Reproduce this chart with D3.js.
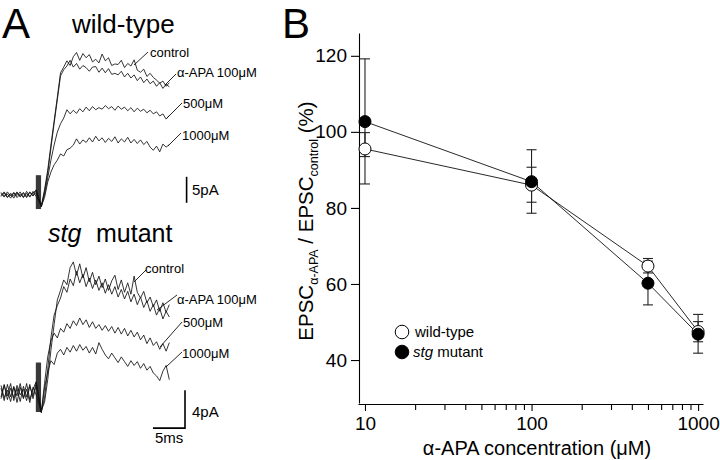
<!DOCTYPE html>
<html><head><meta charset="utf-8">
<script src="https://cdn.jsdelivr.net/npm/d3@7"></script>
<style>
html,body{margin:0;padding:0;background:#fff;}
svg text{font-family:"Liberation Sans", Arial, Helvetica, sans-serif;fill:#000;}
</style></head>
<body><svg id="c" width="720" height="460"></svg>
<script>
// ---------------- DATA ----------------
// Panel A: sample times (ms)
const tBase = [0,0.5,1,1.5,2,2.5,3,3.5,4,4.5,5,5.5];
const tResp = [6.3,6.8,7.3,7.8,8.3,8.8,9.3,9.8,10.3,10.8,11.3,11.8,12.3,12.8,13.3,13.8,14.3,14.8,15.3,15.8,16.3,16.8,17.3,17.8,18.3,18.8,19.3,19.8,20.3,20.8,21.3,21.8,22.3,22.8,23.3,23.8,24.3,24.8,25.3,25.8,26.3];
const traceLabels = ["control","α-APA 100μM","500μM","1000μM"];
// wild-type currents (pA, inward plotted upward)
const wtBase = [
  [0.3,-0.4,0.6,-0.2,0.5,-0.5,0.2,-0.4,0.7,-0.3,0.4,0.9],
  [-0.3,0.4,-0.5,0.3,-0.2,0.6,-0.4,0.5,-0.3,0.6,-0.2,0.5],
  [0.5,-0.2,0.2,-0.6,0.4,-0.1,0.6,-0.5,0.3,-0.4,0.7,-0.3],
  [-0.1,0.6,-0.4,0.2,-0.6,0.4,-0.2,0.3,-0.5,0.5,-0.1,1.0]
];
const wtControl = [-2.1,1.0,4.8,9.6,14.2,18.8,23.5,24.6,25.8,24.9,26.6,27.4,25.9,27.2,26.4,27.0,25.6,26.1,25.4,27.1,25.8,26.4,24.9,25.2,25.1,25.9,24.5,25.3,24.8,26.0,24.0,23.6,24.2,22.8,23.4,22.6,22.1,21.5,21.9,20.9,21.6];
const wt100 = [-2.3,0.6,4.2,9.0,13.8,18.3,22.9,24.1,24.8,25.9,24.6,25.3,24.2,24.9,24.5,23.8,24.6,24.7,23.6,24.4,23.5,24.3,23.2,23.4,23.1,23.8,22.7,23.4,22.5,23.1,22.0,22.7,21.6,22.3,21.4,21.9,20.9,21.6,20.5,21.3,20.8];
const wt500 = [-2.0,0.0,3.3,6.7,9.6,12.1,13.7,14.8,16.4,15.6,16.3,15.7,16.6,16.0,16.9,16.2,17.0,16.4,16.8,16.5,17.2,16.6,17.0,16.3,17.1,16.5,16.9,16.2,16.8,16.0,16.7,16.1,16.5,15.8,16.3,15.6,16.0,15.2,15.6,14.6,15.3];
const wt1000 = [-2.2,-0.5,2.5,4.4,5.8,6.7,7.9,7.5,8.7,9.0,9.6,10.8,9.8,10.6,10.1,11.0,10.2,11.3,10.4,11.0,10.1,10.9,10.3,11.2,10.0,10.8,10.2,11.1,10.0,10.7,9.9,10.6,9.7,10.3,9.2,8.6,9.4,8.3,9.8,9.2,9.7];
// stg mutant currents (pA)
const stgBase = [
  [0.5,-0.8,0.9,-0.4,0.7,-1.0,0.6,-0.5,1.0,-0.7,0.4,1.2],
  [-0.6,0.8,-0.3,1.0,-0.8,0.5,-0.9,0.7,-0.4,0.9,-0.6,0.8],
  [0.8,-0.5,0.3,-0.9,0.6,-0.3,1.0,-0.6,0.4,-1.0,0.6,-0.2],
  [-0.4,0.9,-0.7,0.5,-0.5,0.8,-0.2,0.4,-0.8,0.7,-0.3,1.1]
];
const stgControl = [-1.8,-1.0,1.4,4.5,7.2,9.8,10.8,11.9,11.4,13.2,13.8,12.4,13.6,12.1,13.2,11.7,12.7,11.4,12.3,11.1,12.0,10.8,11.8,12.4,10.9,11.9,10.6,11.6,10.4,12.3,10.6,10.0,10.7,9.5,10.1,9.1,9.8,8.6,9.5,8.5,9.3];
const stg100 = [-2.0,-0.5,2.5,5.8,8.2,9.2,10.0,11.2,10.6,12.0,11.3,12.8,11.6,12.5,11.2,12.1,11.0,11.9,10.8,11.6,10.5,11.4,10.4,11.2,10.1,10.9,9.9,10.7,9.6,10.4,9.3,10.1,9.0,9.7,8.6,9.3,8.2,8.9,7.8,8.6,8.0];
const stg500 = [-2.0,1.0,3.8,5.5,6.3,5.8,6.8,6.4,7.3,6.8,7.6,7.1,7.9,7.2,7.7,6.9,7.5,6.8,7.2,6.6,7.1,6.5,7.0,6.3,6.9,6.2,6.8,6.0,6.6,5.9,6.4,5.6,6.1,5.2,5.8,5.0,5.4,4.6,5.2,4.4,5.3];
const stg1000 = [-2.1,0.5,2.2,3.4,3.0,4.2,4.6,4.0,4.8,4.3,5.0,4.4,5.1,4.5,4.9,4.2,4.8,4.1,5.3,4.6,4.0,3.6,4.2,3.7,3.2,3.8,3.3,2.8,3.4,2.9,3.3,2.6,3.1,2.4,2.8,2.1,1.8,1.3,2.3,2.9,1.4];
// stimulus artifact
const artifactT = [5.55,5.7,5.85,6.0,6.15];
const wtArtifact = [-2.7,3.8];
const stgArtifact = [-2.0,3.2];

// Panel B
const concentrations = [10,100,500,1000];
const xTicks = [10,100,1000];
const xMinorTicks = [20,30,40,50,60,70,80,90,200,300,400,500,600,700,800,900];
const yTicks = [40,60,80,100,120];
const wtMean = [95.5,86.0,64.7,47.5];
const wtLow  = [93.5,81.5,62.9,44.8];
const wtHigh = [99.8,90.7,66.7,50.1];
const stgMean = [102.7,86.9,60.2,46.8];
const stgLow  = [86.3,78.6,54.5,41.8];
const stgHigh = [119.2,95.3,66.0,52.0];
const legendLabels = ["wild-type","stg mutant"];

// ---------------- DRAW ----------------
const svg = d3.select("#c");

// ---- Panel A ----
const xA = d3.scaleLinear().domain([0,30]).range([1,193]);
const yWT = d3.scaleLinear().domain([-5,30]).range([221,39]);
const ySTG = d3.scaleLinear().domain([-3,15]).range([421.5,250.5]);
const tAll = tBase.concat(tResp);

function drawTraces(yS, bases, resps, art){
  const g = svg.append("g");
  g.selectAll("line.art").data(artifactT).join("line")
    .attr("x1", d=>xA(d)).attr("x2", d=>xA(d))
    .attr("y1", yS(art[0])).attr("y2", yS(art[1]))
    .attr("stroke","#3a3a3a").attr("stroke-width",1.4);
  const line = d3.line().x(d=>xA(d[0])).y(d=>yS(d[1]));
  resps.forEach((r,i)=>{
    const vals = bases[i].concat(r);
    g.append("path").datum(tAll.map((t,k)=>[t,vals[k]]))
      .attr("d", line).attr("fill","none").attr("stroke","#111")
      .attr("stroke-width",0.85).attr("stroke-linejoin","round");
  });
}
drawTraces(yWT, wtBase, [wtControl,wt100,wt500,wt1000], wtArtifact);
drawTraces(ySTG, stgBase, [stgControl,stg100,stg500,stg1000], stgArtifact);

// trace labels + leaders
const wtLab = [
  {x:150,y:57,l:[134,65,148,52]},
  {x:177,y:77,l:[165,85,176,74]},
  {x:183,y:108,l:[167,118,182,103]},
  {x:182,y:140,l:[168,146,181,133]}
];
const stgLab = [
  {x:145,y:273,l:[134,282,146,270]},
  {x:177,y:304,l:[157,310,177,295]},
  {x:183,y:327,l:[160,347,182,322]},
  {x:182,y:358,l:[166,367,182,352]}
];
[wtLab, stgLab].forEach(set=>{
  set.forEach((p,i)=>{
    svg.append("line").attr("x1",p.l[0]).attr("y1",p.l[1]).attr("x2",p.l[2]).attr("y2",p.l[3])
      .attr("stroke","#111").attr("stroke-width",0.9);
    svg.append("text").attr("x",p.x).attr("y",p.y).attr("font-size",13).text(traceLabels[i]);
  });
});

// scale bars
svg.append("line").attr("x1",xA(29)).attr("x2",xA(29)).attr("y1",yWT(-1.5)).attr("y2",yWT(3.5))
  .attr("stroke","#000").attr("stroke-width",1.6);
svg.append("text").attr("x",192).attr("y",195).attr("font-size",15).text("5pA");
svg.append("path").attr("d",`M${xA(23.75)},${ySTG(-3.7)}H${xA(28.75)}V${ySTG(0.3)}`)
  .attr("fill","none").attr("stroke","#000").attr("stroke-width",1.6);
svg.append("text").attr("x",192).attr("y",417).attr("font-size",15).text("4pA");
svg.append("text").attr("x",155).attr("y",443).attr("font-size",15).text("5ms");

// titles
svg.append("text").attr("x",2).attr("y",38).attr("font-size",42).text("A");
svg.append("text").attr("x",72).attr("y",33).attr("font-size",26).text("wild-type");
const st = svg.append("text").attr("y",242).attr("font-size",25);
st.append("tspan").attr("x",48).attr("font-style","italic").text("stg");
st.append("tspan").attr("x",96).text("mutant");

// ---- Panel B ----
svg.append("text").attr("x",282).attr("y",38).attr("font-size",42).text("B");
const xB = d3.scaleLog().domain([9.08,1070]).range([358,703]);
const yB = d3.scaleLinear().domain([28.7,126]).range([403,33]);

const xAxisG = svg.append("g").attr("transform","translate(0,404)")
  .call(d3.axisBottom(xB).tickValues(xTicks).tickFormat(d3.format("d")).tickSize(7).tickSizeOuter(0).tickPadding(6));
const xMinorG = svg.append("g").attr("transform","translate(0,404)")
  .call(d3.axisBottom(xB).tickValues(xMinorTicks).tickFormat("").tickSize(6).tickSizeOuter(0));
xMinorG.select(".domain").remove();
const yAxisG = svg.append("g").attr("transform","translate(359,0)")
  .call(d3.axisLeft(yB).tickValues(yTicks).tickSize(8).tickSizeOuter(0).tickPadding(4));
[xAxisG,xMinorG,yAxisG].forEach(g=>{
  g.selectAll("path,line").attr("stroke","#000").attr("stroke-width",1.1);
  g.selectAll("text").attr("font-size",19).attr("fill","#000")
    .attr("font-family",'"Liberation Sans", Arial, sans-serif');
});

svg.append("text").attr("x",537).attr("y",455).attr("text-anchor","middle").attr("font-size",20)
  .text("α-APA concentration (μM)");
const yl = svg.append("text").attr("transform","translate(313,221) rotate(-90)")
  .attr("text-anchor","middle").attr("font-size",20.5);
yl.append("tspan").text("EPSC");
yl.append("tspan").attr("font-size",12.5).attr("dy",4.5).text("α-APA");
yl.append("tspan").attr("dy",-4.5).text(" / EPSC");
yl.append("tspan").attr("font-size",12.5).attr("dy",4.5).text("control");
yl.append("tspan").attr("dy",-4.5).text(" (%)");

const series = [
  {mean:wtMean, lo:wtLow, hi:wtHigh, fill:"#fff"},
  {mean:stgMean, lo:stgLow, hi:stgHigh, fill:"#000"}
];
const gB = svg.append("g");
series.forEach(s=>{
  concentrations.forEach((c,i)=>{
    const x = xB(c);
    gB.append("line").attr("x1",x).attr("x2",x).attr("y1",yB(s.lo[i])).attr("y2",yB(s.hi[i]))
      .attr("stroke","#222").attr("stroke-width",1.1);
    [s.lo[i], s.hi[i]].forEach(v=>{
      gB.append("line").attr("x1",x-5).attr("x2",x+5).attr("y1",yB(v)).attr("y2",yB(v))
        .attr("stroke","#222").attr("stroke-width",1.1);
    });
  });
});
const lineB = d3.line().x((d,i)=>xB(concentrations[i])).y(d=>yB(d));
series.forEach(s=>{
  gB.append("path").datum(s.mean).attr("d",lineB).attr("fill","none")
    .attr("stroke","#111").attr("stroke-width",0.9);
});
series.forEach(s=>{
  gB.selectAll(null).data(s.mean).join("circle")
    .attr("cx",(d,i)=>xB(concentrations[i])).attr("cy",d=>yB(d)).attr("r",6)
    .attr("fill",s.fill).attr("stroke","#000").attr("stroke-width",1);
});

// legend
series.forEach((s,i)=>{
  const y = 332 + i*20;
  svg.append("circle").attr("cx",402).attr("cy",y).attr("r",6.8)
    .attr("fill",s.fill).attr("stroke","#000").attr("stroke-width",1);
});
svg.append("text").attr("x",415).attr("y",337).attr("font-size",15).text(legendLabels[0]);
const lg = svg.append("text").attr("x",413).attr("y",357).attr("font-size",15);
const parts = legendLabels[1].split(" ");
lg.append("tspan").attr("font-style","italic").text(parts[0]);
lg.append("tspan").text(" " + parts[1]);
</script></body></html>
